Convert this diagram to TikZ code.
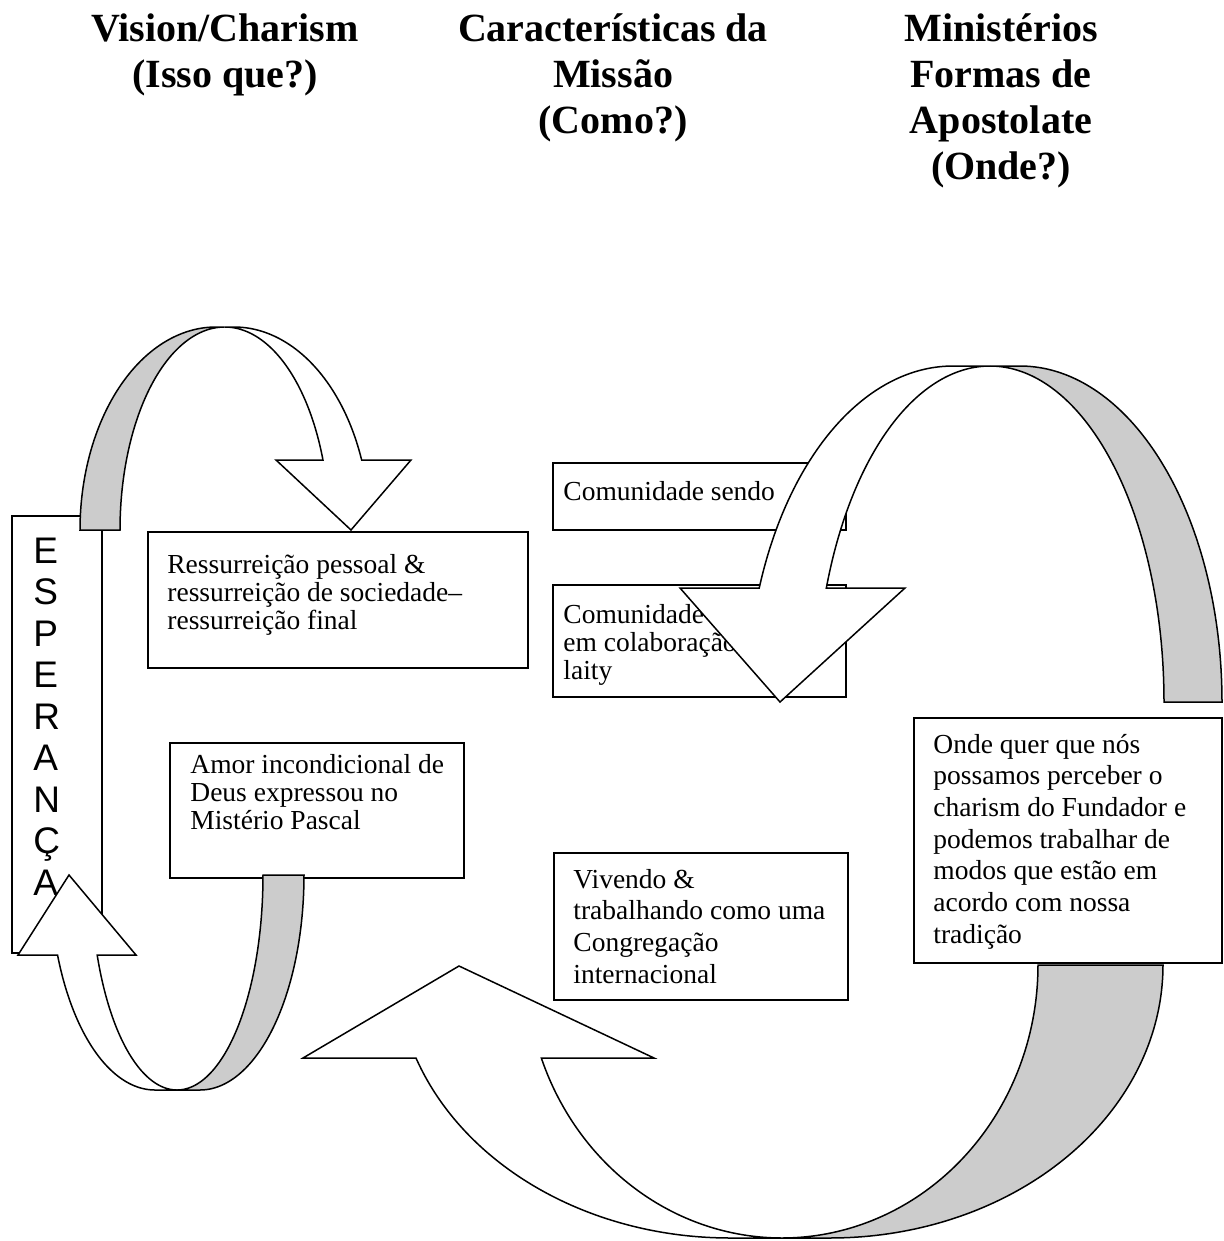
\documentclass[tikz,border=0pt]{standalone}
\usepackage{fontspec}
\setmainfont{Liberation Serif}
\newfontfamily\arialf{Liberation Sans}
\definecolor{shade}{RGB}{204,204,204}
\newcommand{\lns}[1]{\begin{tabular}[t]{@{}l@{}}#1\end{tabular}}
\newcommand{\clns}[1]{\begin{tabular}[t]{@{}c@{}}#1\end{tabular}}
\begin{document}
\begin{tikzpicture}[x=0.5pt,y=-0.5pt,
  box/.style={draw, line width=0.9pt, fill=white},
  arr/.style={draw, line width=0.75pt, line join=miter},
  title/.style={font=\bfseries\fontsize{20}{23}\selectfont, anchor=base, inner sep=0pt},
  bodyA/.style={font=\fontsize{13.75}{14}\selectfont, anchor=base west, inner sep=0pt},
  bodyB/.style={font=\fontsize{13.75}{15.85}\selectfont, anchor=base west, inner sep=0pt},
  esp/.style={font=\arialf\fontsize{18.5}{20.75}\selectfont, anchor=base west, inner sep=0pt}]
\useasboundingbox (0,0) rectangle (1223,1241);

% titles
\node[title] (h1) at (225,42) {\clns{Vision/Charism\\(Isso que?)}};
\node[title] (h2) at (613,42) {\clns{Características da\\Missão\\(Como?)}};
\node[title] (h3) at (1001,42) {\clns{Ministérios\\Formas de\\Apostolate\\(Onde?)}};

% boxes
\draw[box] (12,516) rectangle (102,953);
\draw[box] (148,532) rectangle (528,668);
\draw[box] (553,463) rectangle (846,530);
\draw[box] (553,585) rectangle (846,697);
\draw[box] (170,743) rectangle (464,878);
\draw[box] (554,853) rectangle (848,1000);
\draw[box] (914,718) rectangle (1222,963);

% texts
\node[esp] (esp) at (33,563) {\lns{E\\S\\P\\E\\R\\A\\N\\Ç\\A}};
\node[bodyA] (res) at (167,573) {\lns{Ressurreição pessoal \&\\ressurreição de sociedade–\\ressurreição final}};
\node[bodyA] (com1) at (563,500) {Comunidade sendo};
\node[bodyA] (com2) at (563,623) {\lns{Comunidade\\em colaboração\\laity}};
\node[bodyA] (amor) at (190,773) {\lns{Amor incondicional de\\Deus expressou no\\Mistério Pascal}};
\node[bodyB] (viv) at (573,888) {\lns{Vivendo \&\\trabalhando como uma\\Congregação\\internacional}};
\node[bodyB] (onde) at (933,753) {\lns{Onde quer que nós\\possamos perceber o\\charism do Fundador e\\podemos trabalhar de\\modos que estão em\\acordo com nossa\\tradição}};

% arrow A (top left, curved down)
\path[arr, fill=shade] plot[domain=180:270, samples=60, variable=\t] ({216+136*cos(\t)},{530+203*sin(\t)})
  -- plot[domain=270:180, samples=60, variable=\t] ({224.7+104.7*cos(\t)},{530+203*sin(\t)}) -- cycle;
\path[arr, fill=white] plot[domain=270:339.83, samples=60, variable=\t] ({234+136*cos(\t)},{530+203*sin(\t)})
  -- (411,460) -- (351,530) -- (276,460)
  -- plot[domain=339.83:270, samples=60, variable=\t] ({224.7+104.7*cos(\t)},{530+203*sin(\t)}) -- cycle;

% arrow B (bottom left, curved up)
\path[arr, fill=white] plot[domain=90:158.15, samples=60, variable=\t] ({155+105*cos(\t)},{875+215*sin(\t)})
  -- (18,955) -- (69,875) -- (136,955)
  -- plot[domain=158.15:90, samples=60, variable=\t] ({177+86*cos(\t)},{875+215*sin(\t)}) -- cycle;
\path[arr, fill=shade] plot[domain=0:90, samples=60, variable=\t] ({200+104*cos(\t)},{875+215*sin(\t)})
  -- plot[domain=90:0, samples=60, variable=\t] ({177+86*cos(\t)},{875+215*sin(\t)}) -- cycle;

% arrow C (big right, curved down)
\path[arr, fill=shade] plot[domain=270:360, samples=80, variable=\t] ({1020+202*cos(\t)},{702+336*sin(\t)})
  -- plot[domain=360:270, samples=80, variable=\t] ({990+174*cos(\t)},{702+336*sin(\t)}) -- cycle;
\path[arr, fill=white] plot[domain=270:199.83, samples=80, variable=\t] ({953+206*cos(\t)},{702+336*sin(\t)})
  -- (680,588) -- (780,702) -- (905,588)
  -- plot[domain=199.83:270, samples=80, variable=\t] ({990+174*cos(\t)},{702+336*sin(\t)}) -- cycle;

% arrow D (bottom, curved up)
\path[arr, fill=white] plot[domain=90:160.08, samples=80, variable=\t] ({730+334*cos(\t)},{965+273*sin(\t)})
  -- (303,1058) -- (459,966) -- (654,1058)
  -- plot[domain=160.08:90, samples=80, variable=\t] ({782+256*cos(\t)},{965+273*sin(\t)}) -- cycle;
\path[arr, fill=shade] plot[domain=0:90, samples=80, variable=\t] ({830+333*cos(\t)},{965+273*sin(\t)})
  -- plot[domain=90:0, samples=80, variable=\t] ({782+256*cos(\t)},{965+273*sin(\t)}) -- cycle;
\end{tikzpicture}
\end{document}
